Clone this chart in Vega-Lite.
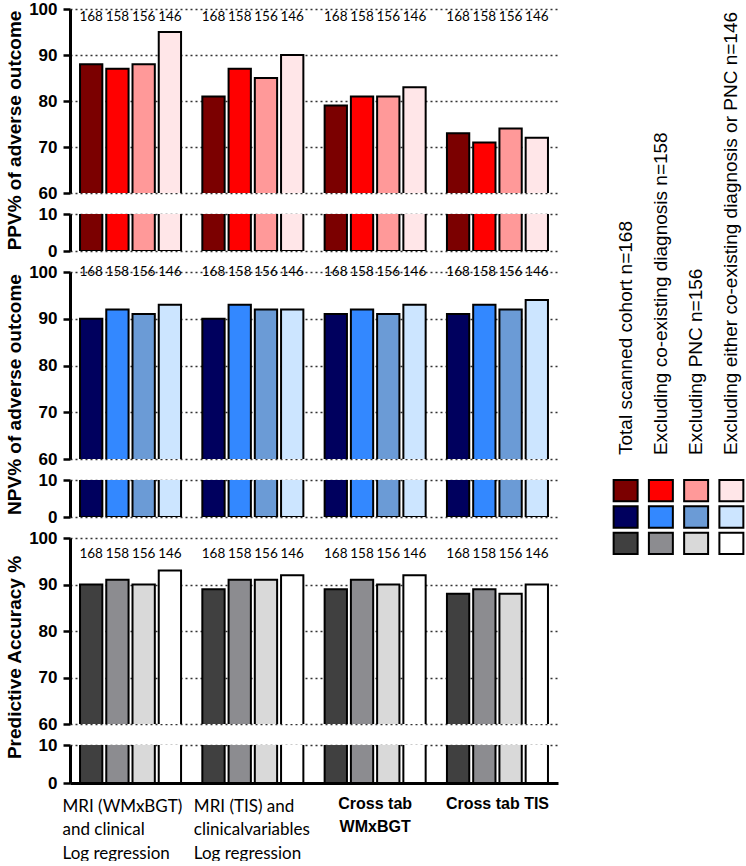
{
  "$schema": "https://vega.github.io/schema/vega-lite/v6.json",
  "padding": {"top": 0, "left": 5, "right": 0, "bottom": 0},
  "config": {
    "view": {"stroke": null},
    "font": "Liberation Sans",
    "axisY": {
      "domainWidth": 3, "domainColor": "black", "tickColor": "black", "tickWidth": 2.5, "tickSize": 7,
      "labelFont": "Liberation Sans", "labelFontWeight": "bold", "labelFontSize": 17, "labelColor": "black", "labelPadding": 6,
      "titleFont": "Liberation Sans", "titleFontSize": 19, "titleFontWeight": "bold", "titleColor": "black", "titlePadding": 4,
      "grid": true, "gridDash": [2, 3], "gridColor": "#333333", "gridWidth": 1.5
    }
  },
  "datasets": {
    "bars": [
      {"metric": "PPV", "group": "MRI (WMxBGT)|and clinical|Log regression", "cohort": "168", "value": 88},
      {"metric": "PPV", "group": "MRI (WMxBGT)|and clinical|Log regression", "cohort": "158", "value": 87},
      {"metric": "PPV", "group": "MRI (WMxBGT)|and clinical|Log regression", "cohort": "156", "value": 88},
      {"metric": "PPV", "group": "MRI (WMxBGT)|and clinical|Log regression", "cohort": "146", "value": 95},
      {"metric": "PPV", "group": "MRI (TIS) and|clinicalvariables|\u00a0Log regression", "cohort": "168", "value": 81},
      {"metric": "PPV", "group": "MRI (TIS) and|clinicalvariables|\u00a0Log regression", "cohort": "158", "value": 87},
      {"metric": "PPV", "group": "MRI (TIS) and|clinicalvariables|\u00a0Log regression", "cohort": "156", "value": 85},
      {"metric": "PPV", "group": "MRI (TIS) and|clinicalvariables|\u00a0Log regression", "cohort": "146", "value": 90},
      {"metric": "PPV", "group": "Cross tab|WMxBGT", "cohort": "168", "value": 79},
      {"metric": "PPV", "group": "Cross tab|WMxBGT", "cohort": "158", "value": 81},
      {"metric": "PPV", "group": "Cross tab|WMxBGT", "cohort": "156", "value": 81},
      {"metric": "PPV", "group": "Cross tab|WMxBGT", "cohort": "146", "value": 83},
      {"metric": "PPV", "group": "Cross tab TIS", "cohort": "168", "value": 73},
      {"metric": "PPV", "group": "Cross tab TIS", "cohort": "158", "value": 71},
      {"metric": "PPV", "group": "Cross tab TIS", "cohort": "156", "value": 74},
      {"metric": "PPV", "group": "Cross tab TIS", "cohort": "146", "value": 72},
      {"metric": "NPV", "group": "MRI (WMxBGT)|and clinical|Log regression", "cohort": "168", "value": 90},
      {"metric": "NPV", "group": "MRI (WMxBGT)|and clinical|Log regression", "cohort": "158", "value": 92},
      {"metric": "NPV", "group": "MRI (WMxBGT)|and clinical|Log regression", "cohort": "156", "value": 91},
      {"metric": "NPV", "group": "MRI (WMxBGT)|and clinical|Log regression", "cohort": "146", "value": 93},
      {"metric": "NPV", "group": "MRI (TIS) and|clinicalvariables|\u00a0Log regression", "cohort": "168", "value": 90},
      {"metric": "NPV", "group": "MRI (TIS) and|clinicalvariables|\u00a0Log regression", "cohort": "158", "value": 93},
      {"metric": "NPV", "group": "MRI (TIS) and|clinicalvariables|\u00a0Log regression", "cohort": "156", "value": 92},
      {"metric": "NPV", "group": "MRI (TIS) and|clinicalvariables|\u00a0Log regression", "cohort": "146", "value": 92},
      {"metric": "NPV", "group": "Cross tab|WMxBGT", "cohort": "168", "value": 91},
      {"metric": "NPV", "group": "Cross tab|WMxBGT", "cohort": "158", "value": 92},
      {"metric": "NPV", "group": "Cross tab|WMxBGT", "cohort": "156", "value": 91},
      {"metric": "NPV", "group": "Cross tab|WMxBGT", "cohort": "146", "value": 93},
      {"metric": "NPV", "group": "Cross tab TIS", "cohort": "168", "value": 91},
      {"metric": "NPV", "group": "Cross tab TIS", "cohort": "158", "value": 93},
      {"metric": "NPV", "group": "Cross tab TIS", "cohort": "156", "value": 92},
      {"metric": "NPV", "group": "Cross tab TIS", "cohort": "146", "value": 94},
      {"metric": "ACC", "group": "MRI (WMxBGT)|and clinical|Log regression", "cohort": "168", "value": 90},
      {"metric": "ACC", "group": "MRI (WMxBGT)|and clinical|Log regression", "cohort": "158", "value": 91},
      {"metric": "ACC", "group": "MRI (WMxBGT)|and clinical|Log regression", "cohort": "156", "value": 90},
      {"metric": "ACC", "group": "MRI (WMxBGT)|and clinical|Log regression", "cohort": "146", "value": 93},
      {"metric": "ACC", "group": "MRI (TIS) and|clinicalvariables|\u00a0Log regression", "cohort": "168", "value": 89},
      {"metric": "ACC", "group": "MRI (TIS) and|clinicalvariables|\u00a0Log regression", "cohort": "158", "value": 91},
      {"metric": "ACC", "group": "MRI (TIS) and|clinicalvariables|\u00a0Log regression", "cohort": "156", "value": 91},
      {"metric": "ACC", "group": "MRI (TIS) and|clinicalvariables|\u00a0Log regression", "cohort": "146", "value": 92},
      {"metric": "ACC", "group": "Cross tab|WMxBGT", "cohort": "168", "value": 89},
      {"metric": "ACC", "group": "Cross tab|WMxBGT", "cohort": "158", "value": 91},
      {"metric": "ACC", "group": "Cross tab|WMxBGT", "cohort": "156", "value": 90},
      {"metric": "ACC", "group": "Cross tab|WMxBGT", "cohort": "146", "value": 92},
      {"metric": "ACC", "group": "Cross tab TIS", "cohort": "168", "value": 88},
      {"metric": "ACC", "group": "Cross tab TIS", "cohort": "158", "value": 89},
      {"metric": "ACC", "group": "Cross tab TIS", "cohort": "156", "value": 88},
      {"metric": "ACC", "group": "Cross tab TIS", "cohort": "146", "value": 90}
    ],
    "legend": [
      {"cohort": "168", "label": "Total scanned cohort n=168"},
      {"cohort": "158", "label": "Excluding co-existing diagnosis n=158"},
      {"cohort": "156", "label": "Excluding PNC n=156"},
      {"cohort": "146", "label": "Excluding either co-existing diagnosis or PNC n=146"}
    ]
  },
  "hconcat": [
    {
      "vconcat": [
        {
          "width": 488, "height": 184,
          "data": {"name": "bars"},
          "transform": [{"filter": "datum.metric === 'PPV'"}],
          "encoding": {
            "x": {"field": "group", "type": "nominal", "sort": null, "scale": {"paddingInner": 0.174, "paddingOuter": 0.082}, "axis": null},
            "xOffset": {"field": "cohort", "type": "nominal", "sort": null, "scale": {"paddingInner": 0.15, "paddingOuter": 0}}
          },
          "layer": [
            {
              "mark": {"type": "bar", "clip": true, "stroke": "black", "strokeWidth": 2},
              "encoding": {
                "y": {"field": "value", "type": "quantitative", "scale": {"domain": [60, 100], "nice": false, "zero": false}, "axis": {"values": [60, 70, 80, 90, 100], "title": "PPV% of adverse outcome", "titleY": 121}},
                "y2": {"datum": 0},
                "color": {"field": "cohort", "type": "nominal", "scale": {"domain": ["168", "158", "156", "146"], "range": ["#7b0000", "#ff0000", "#ff9999", "#ffe6e8"]}, "legend": null}
              }
            },
            {
              "mark": {"type": "text", "font": "Lato", "fontSize": 13.5, "color": "black", "baseline": "middle"},
              "encoding": {
                "y": {"datum": 98.3, "type": "quantitative", "axis": {"values": [60, 70, 80, 90, 100], "title": "PPV% of adverse outcome", "titleY": 121}},
                "text": {"field": "cohort"}
              }
            }
          ]
        },
        {
          "width": 488, "height": 37,
          "data": {"name": "bars"},
          "transform": [{"filter": "datum.metric === 'PPV'"}],
          "mark": {"type": "bar", "clip": true, "stroke": "black", "strokeWidth": 2},
          "encoding": {
            "x": {"field": "group", "type": "nominal", "sort": null, "scale": {"paddingInner": 0.174, "paddingOuter": 0.082}, "axis": null},
            "xOffset": {"field": "cohort", "type": "nominal", "sort": null, "scale": {"paddingInner": 0.15, "paddingOuter": 0}},
            "y": {"field": "value", "type": "quantitative", "scale": {"domain": [0, 10], "nice": false}, "axis": {"values": [0, 10], "title": null}},
            "y2": {"datum": 0},
            "color": {"field": "cohort", "type": "nominal", "scale": {"domain": ["168", "158", "156", "146"], "range": ["#7b0000", "#ff0000", "#ff9999", "#ffe6e8"]}, "legend": null}
          }
        },
        {
          "width": 488, "height": 187,
          "data": {"name": "bars"},
          "transform": [{"filter": "datum.metric === 'NPV'"}],
          "encoding": {
            "x": {"field": "group", "type": "nominal", "sort": null, "scale": {"paddingInner": 0.174, "paddingOuter": 0.082}, "axis": null},
            "xOffset": {"field": "cohort", "type": "nominal", "sort": null, "scale": {"paddingInner": 0.15, "paddingOuter": 0}}
          },
          "layer": [
            {
              "mark": {"type": "bar", "clip": true, "stroke": "black", "strokeWidth": 2},
              "encoding": {
                "y": {"field": "value", "type": "quantitative", "scale": {"domain": [60, 100], "nice": false, "zero": false}, "axis": {"values": [60, 70, 80, 90, 100], "title": "NPV% of adverse outcome", "titleY": 122}},
                "y2": {"datum": 0},
                "color": {"field": "cohort", "type": "nominal", "scale": {"domain": ["168", "158", "156", "146"], "range": ["#00005e", "#3388ff", "#6b9bd6", "#cce5ff"]}, "legend": null}
              }
            },
            {
              "mark": {"type": "text", "font": "Lato", "fontSize": 13.5, "color": "black", "baseline": "middle"},
              "encoding": {
                "y": {"datum": 100, "type": "quantitative", "axis": {"values": [60, 70, 80, 90, 100], "title": "NPV% of adverse outcome", "titleY": 122}},
                "text": {"field": "cohort"}
              }
            }
          ]
        },
        {
          "width": 488, "height": 37,
          "data": {"name": "bars"},
          "transform": [{"filter": "datum.metric === 'NPV'"}],
          "mark": {"type": "bar", "clip": true, "stroke": "black", "strokeWidth": 2},
          "encoding": {
            "x": {"field": "group", "type": "nominal", "sort": null, "scale": {"paddingInner": 0.174, "paddingOuter": 0.082}, "axis": null},
            "xOffset": {"field": "cohort", "type": "nominal", "sort": null, "scale": {"paddingInner": 0.15, "paddingOuter": 0}},
            "y": {"field": "value", "type": "quantitative", "scale": {"domain": [0, 10], "nice": false}, "axis": {"values": [0, 10], "title": null}},
            "y2": {"datum": 0},
            "color": {"field": "cohort", "type": "nominal", "scale": {"domain": ["168", "158", "156", "146"], "range": ["#00005e", "#3388ff", "#6b9bd6", "#cce5ff"]}, "legend": null}
          }
        },
        {
          "width": 488, "height": 186,
          "data": {"name": "bars"},
          "transform": [{"filter": "datum.metric === 'ACC'"}],
          "encoding": {
            "x": {"field": "group", "type": "nominal", "sort": null, "scale": {"paddingInner": 0.174, "paddingOuter": 0.082}, "axis": null},
            "xOffset": {"field": "cohort", "type": "nominal", "sort": null, "scale": {"paddingInner": 0.15, "paddingOuter": 0}}
          },
          "layer": [
            {
              "mark": {"type": "bar", "clip": true, "stroke": "black", "strokeWidth": 2},
              "encoding": {
                "y": {"field": "value", "type": "quantitative", "scale": {"domain": [60, 100], "nice": false, "zero": false}, "axis": {"values": [60, 70, 80, 90, 100], "title": "Predictive Accuracy %", "titleY": 119}},
                "y2": {"datum": 0},
                "color": {"field": "cohort", "type": "nominal", "scale": {"domain": ["168", "158", "156", "146"], "range": ["#404040", "#8c8c90", "#d9d9d9", "#ffffff"]}, "legend": null}
              }
            },
            {
              "mark": {"type": "text", "font": "Lato", "fontSize": 13.5, "color": "black", "baseline": "middle"},
              "encoding": {
                "y": {"datum": 96.6, "type": "quantitative", "axis": {"values": [60, 70, 80, 90, 100], "title": "Predictive Accuracy %", "titleY": 119}},
                "text": {"field": "cohort"}
              }
            }
          ]
        },
        {
          "width": 488, "height": 38,
          "data": {"name": "bars"},
          "transform": [{"filter": "datum.metric === 'ACC'"}],
          "mark": {"type": "bar", "clip": true, "stroke": "black", "strokeWidth": 2},
          "encoding": {
            "x": {
              "field": "group", "type": "nominal", "sort": null,
              "scale": {"paddingInner": 0.174, "paddingOuter": 0.082},
              "axis": {
                "title": null, "ticks": false, "tickSize": 0, "grid": false,
                "domain": true, "domainWidth": 3, "domainColor": "black",
                "labelAngle": 0, "labelOverlap": false, "labelLimit": 300,
                "labelExpr": "split(datum.value, '|')",
                "labelLineHeight": 23.5, "labelBaseline": "top", "labelColor": "black",
                "labelPadding": {"condition": {"test": "indexof(datum.value, 'Cross') === 0", "value": 12}, "value": 15},
                "labelFont": {"condition": {"test": "indexof(datum.value, 'Cross') === 0", "value": "Liberation Sans"}, "value": "Lato"},
                "labelFontWeight": {"condition": {"test": "indexof(datum.value, 'Cross') === 0", "value": "bold"}, "value": "normal"},
                "labelFontSize": {"condition": {"test": "indexof(datum.value, 'Cross') === 0", "value": 16}, "value": 17},
                "labelAlign": {"condition": {"test": "indexof(datum.value, 'Cross') === 0", "value": "center"}, "value": "left"},
                "labelOffset": {"condition": [{"test": "indexof(datum.value, 'MRI (WMxBGT)') === 0", "value": -68}, {"test": "indexof(datum.value, 'MRI (TIS)') === 0", "value": -59}], "value": 0}
              }
            },
            "xOffset": {"field": "cohort", "type": "nominal", "sort": null, "scale": {"paddingInner": 0.15, "paddingOuter": 0}},
            "y": {"field": "value", "type": "quantitative", "scale": {"domain": [0, 10], "nice": false}, "axis": {"values": [0, 10], "title": null}},
            "y2": {"datum": 0},
            "color": {"field": "cohort", "type": "nominal", "scale": {"domain": ["168", "158", "156", "146"], "range": ["#404040", "#8c8c90", "#d9d9d9", "#ffffff"]}, "legend": null}
          }
        }
      ],
      "spacing": 21,
      "bounds": "flush",
      "resolve": {"scale": {"y": "independent", "x": "independent", "xOffset": "independent", "color": "independent"}}
    },
    {
      "vconcat": [
        {
          "width": 141, "height": 446,
          "data": {"name": "legend"},
          "mark": {"type": "text", "angle": 270, "align": "left", "baseline": "middle", "font": "Liberation Sans", "fontSize": 19, "color": "black"},
          "encoding": {
            "x": {"field": "cohort", "type": "nominal", "sort": null, "scale": {"type": "band", "paddingInner": 0.32, "paddingOuter": 0.16}, "axis": null},
            "y": {"datum": 0, "type": "quantitative", "scale": {"domain": [0, 1]}, "axis": null},
            "text": {"field": "label"}
          }
        },
        {
          "width": 141, "height": 74,
          "data": {"name": "bars"},
          "transform": [{"filter": "indexof(datum.group, 'MRI (WMxBGT)') === 0"}],
          "encoding": {
            "x": {"field": "cohort", "type": "nominal", "sort": null, "scale": {"type": "band", "paddingInner": 0.32, "paddingOuter": 0.16}, "axis": null},
            "y": {"field": "metric", "type": "nominal", "sort": ["PPV", "NPV", "ACC"], "scale": {"type": "band", "paddingInner": 0.19, "paddingOuter": 0}, "axis": null}
          },
          "layer": [
            {
              "transform": [{"filter": "datum.metric === 'PPV'"}],
              "mark": {"type": "rect", "stroke": "black", "strokeWidth": 2},
              "encoding": {"color": {"field": "cohort", "type": "nominal", "scale": {"domain": ["168", "158", "156", "146"], "range": ["#7b0000", "#ff0000", "#ff9999", "#ffe6e8"]}, "legend": null}}
            },
            {
              "transform": [{"filter": "datum.metric === 'NPV'"}],
              "mark": {"type": "rect", "stroke": "black", "strokeWidth": 2},
              "encoding": {"color": {"field": "cohort", "type": "nominal", "scale": {"domain": ["168", "158", "156", "146"], "range": ["#00005e", "#3388ff", "#6b9bd6", "#cce5ff"]}, "legend": null}}
            },
            {
              "transform": [{"filter": "datum.metric === 'ACC'"}],
              "mark": {"type": "rect", "stroke": "black", "strokeWidth": 2},
              "encoding": {"color": {"field": "cohort", "type": "nominal", "scale": {"domain": ["168", "158", "156", "146"], "range": ["#404040", "#8c8c90", "#d9d9d9", "#ffffff"]}, "legend": null}}
            }
          ],
          "resolve": {"scale": {"color": "independent"}}
        }
      ],
      "spacing": 25,
      "bounds": "flush",
      "resolve": {"scale": {"x": "independent", "y": "independent", "color": "independent"}}
    }
  ],
  "spacing": 50,
  "resolve": {"scale": {"y": "independent", "x": "independent", "xOffset": "independent", "color": "independent"}}
}
